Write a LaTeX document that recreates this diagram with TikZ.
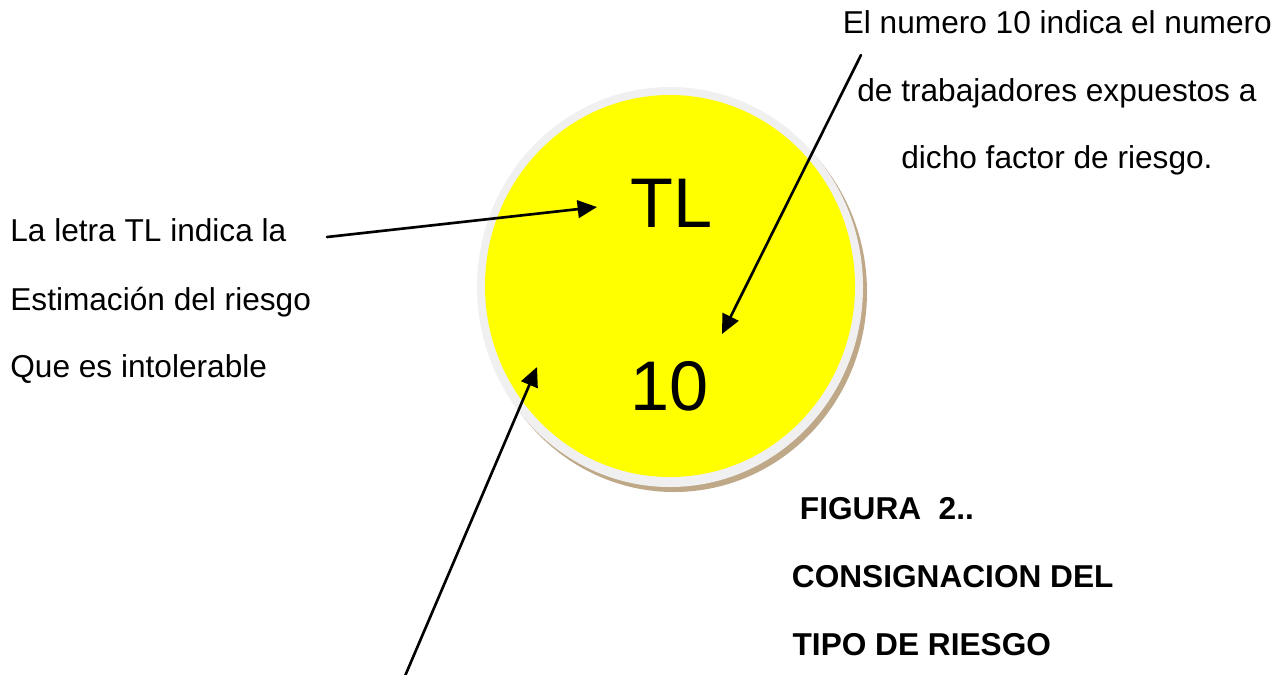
\documentclass[tikz,border=0pt]{standalone}
\usepackage{fontspec}
\setmainfont{Liberation Sans}
\usetikzlibrary{arrows.meta}
\definecolor{ringgray}{HTML}{F0F0F0}
\definecolor{shadowtan}{HTML}{BFA888}
\definecolor{discyellow}{HTML}{FFFF00}
\begin{document}
\begin{tikzpicture}[x=0.02cm, y=-0.02cm, line join=round, line cap=round,
	txt/.style={anchor=base west, inner sep=0pt, font=\fontsize{18}{21}\selectfont},
	bold/.style={txt, font=\fontsize{18}{21}\selectfont\bfseries},
	big/.style={anchor=base west, inner sep=0pt, font=\fontsize{40}{46}\selectfont},
	arr/.style={line width=1.5pt, -{Triangle[length=11pt, width=10pt]}}]
	\useasboundingbox (0,0) rectangle (1284,674);
	% disco amarillo con borde y sombra
	\fill[shadowtan] (674,292) ellipse [x radius=193, y radius=200];
	\fill[ringgray] (670,287) ellipse [x radius=193, y radius=200];
	\fill[discyellow] (670,286) ellipse [x radius=185, y radius=191];
	\node[big] (tl) at (630.5,227) {TL};
	\node[big] (num) at (630.5,410) {10};
	% textos
	\node[txt] (izq1) at (10,241) {La letra TL indica la};
	\node[txt] (izq2) at (10,310) {Estimación del riesgo};
	\node[txt] (izq3) at (10,377) {Que es intolerable};
	\node[txt] (der1) at (842.5,33) {El numero 10 indica el numero};
	\node[txt] (der2) at (857,101) {de trabajadores expuestos a};
	\node[txt] (der3) at (901,168) {dicho factor de riesgo.};
	\node[bold] (fig1) at (799.6,519) {FIGURA\ \ 2..};
	\node[bold] (fig2) at (791.6,587) {CONSIGNACION DEL};
	\node[bold] (fig3) at (792.3,655) {TIPO DE RIESGO};
	% flechas
	\coordinate (a1) at (327,237); \coordinate (a1e) at (597,207);
	\coordinate (a2) at (861,55); \coordinate (a2e) at (722,334);
	\coordinate (a3) at (405,676); \coordinate (a3e) at (537,367);
	\draw[arr] (a1) -- (a1e);
	\draw[arr] (a2) -- (a2e);
	\draw[arr] (a3) -- (a3e);
\end{tikzpicture}
\end{document}
